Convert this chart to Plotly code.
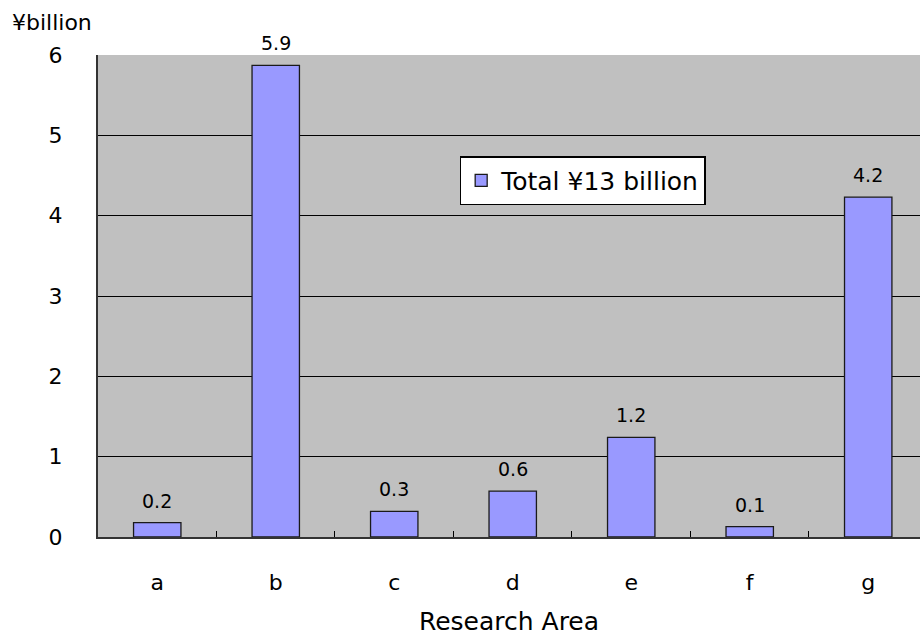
import plotly.graph_objects as go

categories = ["a", "b", "c", "d", "e", "f", "g"]
# bar heights as drawn
heights = [0.18, 5.87, 0.32, 0.57, 1.24, 0.13, 4.23]
labels = ["0.2", "5.9", "0.3", "0.6", "1.2", "0.1", "4.2"]
y_ticks = [0, 1, 2, 3, 4, 5, 6]

FONT = "DejaVu Sans, sans-serif"

fig = go.Figure()
fig.add_trace(go.Bar(
    x=categories, y=heights, width=0.4,
    name="Total \u00a513 billion",
    marker=dict(color="#9999FF", line=dict(color="#1a1a1a", width=1.3)),
    showlegend=True,
))

for c, h, t in zip(categories, heights, labels):
    fig.add_annotation(x=c, y=h, text=t, showarrow=False, yshift=22,
                       font=dict(size=19, color="#000", family=FONT))

fig.add_annotation(xref="paper", yref="paper", x=-0.107, y=1.068, xanchor="left",
                   yanchor="middle", text="\u00a5billion", showarrow=False,
                   font=dict(size=22, color="#000", family=FONT))

fig.update_layout(
    width=920, height=636,
    margin=dict(l=98, r=0, t=55, b=99),
    paper_bgcolor="white", plot_bgcolor="#C0C0C0",
    font=dict(family=FONT, size=22, color="#000"),
    legend=dict(x=0.44, y=0.79, xanchor="left", yanchor="top",
                bgcolor="white", bordercolor="black", borderwidth=1.5,
                font=dict(size=25, family=FONT), itemwidth=30,
                tracegroupgap=0),
    bargap=0.6,
)
fig.update_xaxes(range=[-0.5, 6.437], showgrid=False, showline=True,
                 linecolor="#333", linewidth=2, ticks="inside", tickson="boundaries",
                 ticklen=6, tickcolor="#000", ticklabelstandoff=25,
                 title=dict(text="Research Area", standoff=18, font=dict(size=25)))
fig.update_yaxes(range=[0, 6], tickvals=y_ticks, showgrid=True, gridcolor="#000",
                 gridwidth=1, showline=True, linecolor="#333", linewidth=2,
                 ticks="", ticklabelstandoff=29, zeroline=False)

fig.write_html(
    "out.html",
    config={"displayModeBar": False},
    post_script="document.body.style.margin='0';document.body.style.overflow='hidden';",
)
